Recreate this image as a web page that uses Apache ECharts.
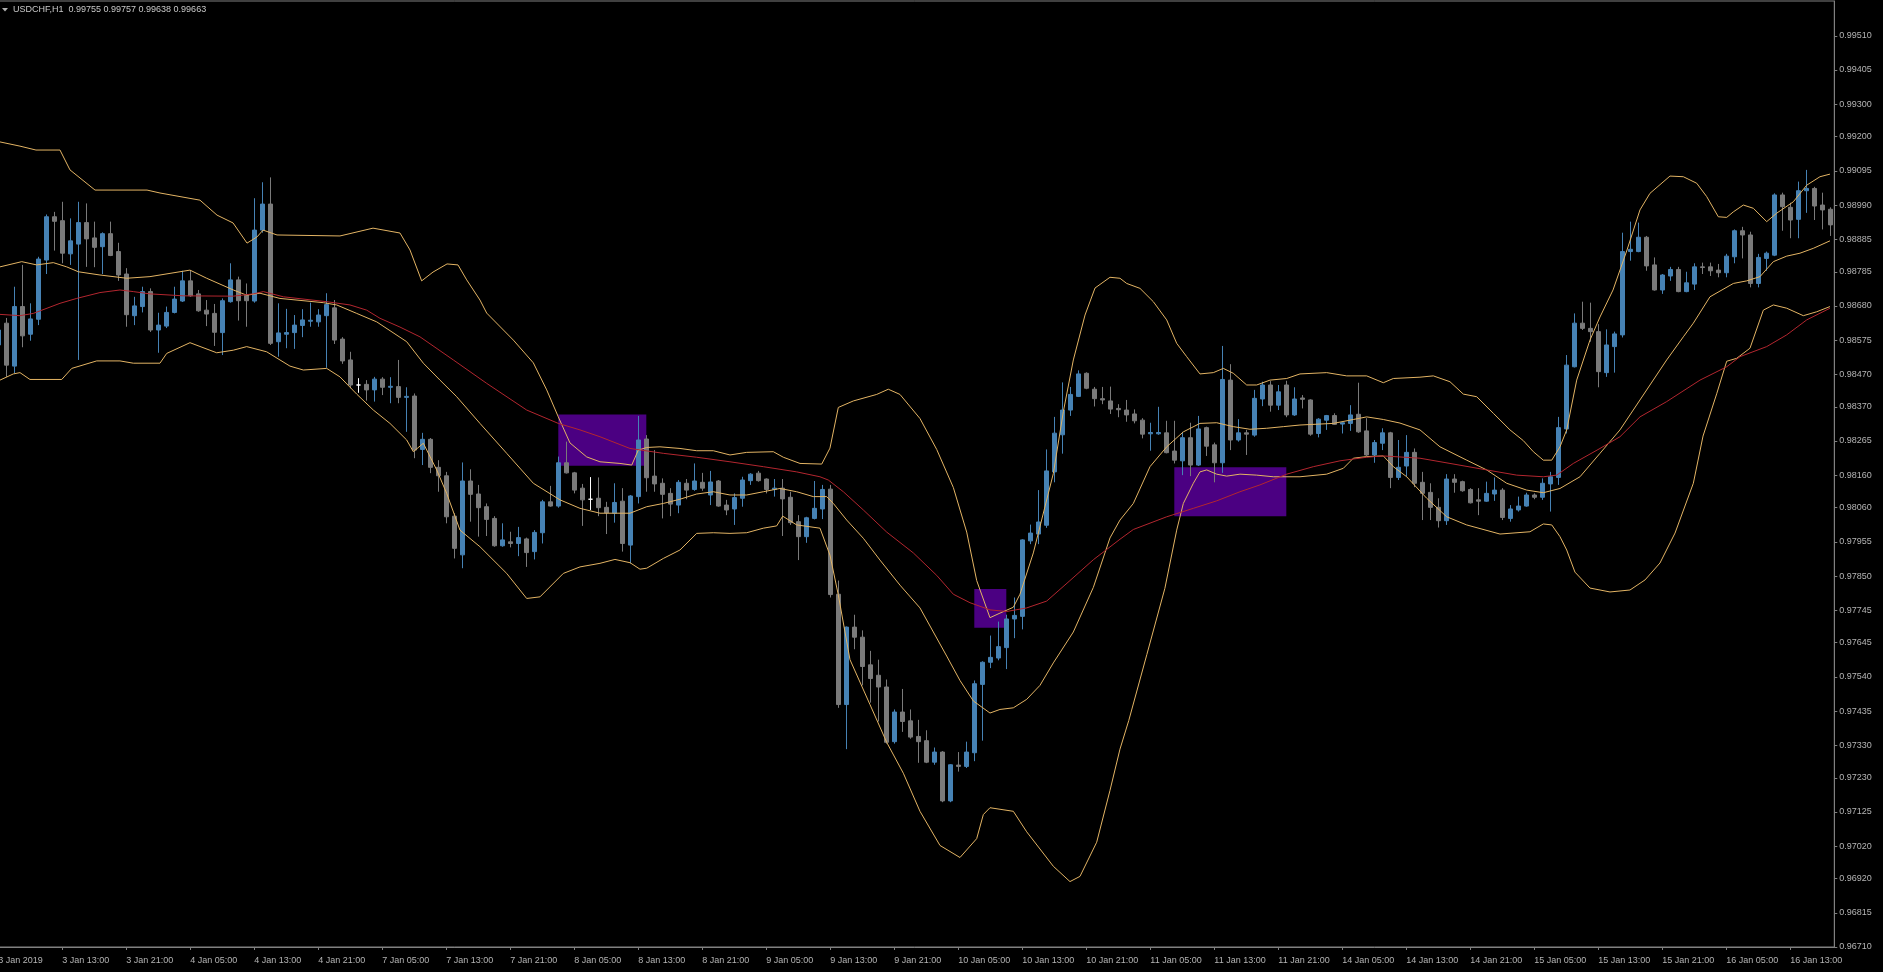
<!DOCTYPE html>
<html>
<head>
<meta charset="utf-8">
<title>USDCHF,H1</title>
<script src="https://cdn.jsdelivr.net/npm/echarts@6/dist/echarts.min.js"></script>
<style>
html,body{margin:0;padding:0;background:#000;overflow:hidden;width:1883px;height:972px;}
#chart{position:absolute;left:-6px;top:0;width:1889px;height:972px;}
</style>
</head>
<body>
<div id="chart"></div>
<script>
// ---------------- DATA ----------------
const symbolTitle = 'USDCHF,H1  0.99755 0.99757 0.99638 0.99663';
const firstBarUTC = [2019, 0, 3, 5]; // 3 Jan 2019 05:00, hourly bars, weekends skipped

const open = [0.98560,0.98627,0.98495,0.98678,0.98593,0.98639,0.98821,0.98954,0.98942,0.98840,
0.98870,0.98936,0.98889,0.98862,0.98902,0.98847,0.98778,0.98650,0.98678,0.98724,
0.98606,0.98618,0.98660,0.98695,0.98757,0.98717,0.98667,0.98657,0.98598,0.98693,
0.98760,0.98713,0.98695,0.98913,0.98993,0.98570,0.98593,0.98598,0.98620,0.98633,
0.98631,0.98650,0.98674,0.98578,0.98514,0.98437,0.98439,0.98422,0.98455,0.98430,
0.98432,0.98399,0.98403,0.98239,0.98270,0.98184,0.98158,0.98034,0.97915,0.98142,
0.98102,0.98063,0.98027,0.97943,0.97955,0.97950,0.97964,0.97925,0.97983,0.98078,
0.98065,0.98198,0.98167,0.98120,0.98086,0.98089,0.98061,0.98043,0.98080,0.97945,
0.98094,0.98271,0.98157,0.98135,0.98104,0.98068,0.98135,0.98116,0.98138,0.98099,
0.98142,0.98068,0.98056,0.98089,0.98143,0.98166,0.98148,0.98116,0.98120,0.98092,
0.98017,0.97971,0.98027,0.98056,0.98117,0.97794,0.97455,0.97693,0.97662,0.97577,
0.97545,0.97509,0.97341,0.97432,0.97405,0.97357,0.97344,0.97278,0.97309,0.97159,
0.97269,0.97265,0.97307,0.97517,0.97585,0.97598,0.97630,0.97718,0.97726,0.97958,
0.97979,0.98006,0.98170,0.98284,0.98360,0.98402,0.98473,0.98424,0.98395,0.98388,
0.98365,0.98360,0.98348,0.98329,0.98287,0.98287,0.98290,0.98234,0.98204,0.98275,
0.98191,0.98306,0.98253,0.98198,0.98452,0.98268,0.98290,0.98283,0.98394,0.98437,
0.98375,0.98437,0.98345,0.98397,0.98391,0.98288,0.98329,0.98343,0.98317,0.98319,
0.98347,0.98296,0.98222,0.98258,0.98290,0.98153,0.98188,0.98230,0.98138,0.98107,
0.98061,0.98020,0.98148,0.98140,0.98116,0.98084,0.98080,0.98102,0.98114,0.98027,
0.98053,0.98065,0.98099,0.98092,0.98133,0.98153,0.98302,0.98493,0.98627,0.98611,
0.98601,0.98475,0.98555,0.98591,0.98847,0.98847,0.98891,0.98806,0.98729,0.98772,
0.98792,0.98724,0.98747,0.98800,0.98800,0.98790,0.98782,0.98831,0.98911,0.98898,
0.98749,0.98826,0.98836,0.99021,0.98983,0.98946,0.99034,0.99041,0.98990,0.98977];

const high = [0.98621,0.98643,0.98739,0.98806,0.98688,0.98831,0.98961,0.98969,0.99000,0.98949,
0.99000,0.98995,0.98939,0.98906,0.98939,0.98874,0.98796,0.98708,0.98739,0.98734,
0.98659,0.98678,0.98739,0.98788,0.98790,0.98729,0.98698,0.98686,0.98703,0.98811,
0.98770,0.98749,0.99011,0.99060,0.99075,0.98688,0.98671,0.98652,0.98670,0.98690,
0.98670,0.98719,0.98698,0.98584,0.98539,0.98458,0.98452,0.98462,0.98461,0.98461,
0.98514,0.98430,0.98411,0.98290,0.98274,0.98206,0.98170,0.98043,0.98199,0.98178,
0.98130,0.98073,0.98034,0.98012,0.97986,0.98001,0.97968,0.97991,0.98084,0.98127,
0.98217,0.98263,0.98170,0.98133,0.98154,0.98153,0.98078,0.98135,0.98120,0.98099,
0.98342,0.98283,0.98237,0.98150,0.98120,0.98145,0.98148,0.98196,0.98167,0.98173,
0.98145,0.98084,0.98104,0.98155,0.98166,0.98173,0.98150,0.98148,0.98148,0.98109,
0.98037,0.98032,0.98142,0.98130,0.98130,0.97836,0.97695,0.97731,0.97683,0.97620,
0.97593,0.97532,0.97440,0.97503,0.97440,0.97408,0.97376,0.97323,0.97312,0.97272,
0.97309,0.97341,0.97529,0.97588,0.97667,0.97710,0.97731,0.97784,0.97963,0.98008,
0.98114,0.98239,0.98339,0.98445,0.98431,0.98482,0.98476,0.98431,0.98431,0.98432,
0.98378,0.98391,0.98362,0.98335,0.98321,0.98370,0.98327,0.98327,0.98293,0.98321,
0.98342,0.98309,0.98260,0.98557,0.98501,0.98332,0.98299,0.98422,0.98447,0.98449,
0.98437,0.98450,0.98430,0.98406,0.98393,0.98335,0.98345,0.98350,0.98322,0.98375,
0.98444,0.98335,0.98268,0.98304,0.98293,0.98268,0.98283,0.98242,0.98170,0.98135,
0.98089,0.98163,0.98163,0.98143,0.98120,0.98120,0.98140,0.98153,0.98120,0.98068,
0.98094,0.98106,0.98104,0.98150,0.98170,0.98339,0.98529,0.98657,0.98693,0.98690,
0.98624,0.98608,0.98601,0.98905,0.98939,0.98936,0.98895,0.98829,0.98778,0.98800,
0.98800,0.98785,0.98811,0.98813,0.98813,0.98809,0.98840,0.98915,0.98923,0.98908,
0.98840,0.98847,0.99026,0.99028,0.98997,0.99062,0.99098,0.99046,0.99028,0.98983];

const low = [0.98544,0.98462,0.98473,0.98553,0.98573,0.98621,0.98778,0.98850,0.98811,0.98806,
0.98514,0.98800,0.98799,0.98778,0.98833,0.98757,0.98616,0.98621,0.98660,0.98600,
0.98536,0.98612,0.98657,0.98692,0.98708,0.98662,0.98618,0.98557,0.98529,0.98690,
0.98635,0.98616,0.98690,0.98905,0.98560,0.98524,0.98550,0.98548,0.98584,0.98616,
0.98616,0.98490,0.98563,0.98502,0.98427,0.98413,0.98389,0.98386,0.98406,0.98381,
0.98381,0.98293,0.98212,0.98191,0.98166,0.98109,0.98012,0.97904,0.97874,0.98017,
0.97971,0.97973,0.97940,0.97940,0.97938,0.97911,0.97878,0.97901,0.97950,0.98063,
0.98060,0.98165,0.98104,0.98004,0.98053,0.98034,0.97979,0.98014,0.97925,0.97889,
0.98073,0.98109,0.98109,0.98027,0.98034,0.98043,0.98086,0.98112,0.98112,0.98068,
0.98063,0.98037,0.98007,0.98063,0.98130,0.98140,0.98104,0.98094,0.97973,0.98007,
0.97899,0.97952,0.98024,0.98025,0.97784,0.97445,0.97318,0.97625,0.97514,0.97461,
0.97403,0.97335,0.97335,0.97371,0.97350,0.97276,0.97275,0.97270,0.97155,0.97155,
0.97249,0.97260,0.97281,0.97344,0.97567,0.97591,0.97564,0.97659,0.97686,0.97948,
0.97948,0.97998,0.98138,0.98226,0.98342,0.98400,0.98424,0.98371,0.98378,0.98348,
0.98338,0.98324,0.98319,0.98273,0.98235,0.98284,0.98227,0.98196,0.98160,0.98157,
0.98188,0.98219,0.98138,0.98167,0.98237,0.98263,0.98222,0.98278,0.98372,0.98355,
0.98360,0.98338,0.98342,0.98365,0.98281,0.98276,0.98299,0.98314,0.98288,0.98296,
0.98290,0.98219,0.98198,0.98237,0.98120,0.98145,0.98155,0.98123,0.98022,0.98022,
0.97999,0.98007,0.98106,0.98109,0.98073,0.98037,0.98078,0.98081,0.98022,0.98017,
0.98048,0.98063,0.98086,0.98084,0.98048,0.98130,0.98288,0.98491,0.98606,0.98570,
0.98430,0.98462,0.98475,0.98583,0.98819,0.98845,0.98788,0.98727,0.98717,0.98757,
0.98722,0.98722,0.98729,0.98778,0.98772,0.98768,0.98768,0.98811,0.98826,0.98737,
0.98737,0.98788,0.98833,0.98911,0.98888,0.98888,0.98966,0.98944,0.98915,0.98895];

const close = [0.98606,0.98498,0.98678,0.98588,0.98640,0.98824,0.98954,0.98940,0.98842,0.98880,
0.98936,0.98886,0.98860,0.98902,0.98835,0.98775,0.98653,0.98680,0.98724,0.98606,
0.98621,0.98660,0.98701,0.98757,0.98711,0.98665,0.98655,0.98599,0.98696,0.98760,
0.98696,0.98696,0.98913,0.98993,0.98565,0.98597,0.98598,0.98621,0.98637,0.98636,
0.98652,0.98684,0.98575,0.98511,0.98437,0.98437,0.98422,0.98455,0.98430,0.98433,
0.98399,0.98402,0.98237,0.98270,0.98184,0.98158,0.98032,0.97935,0.98142,0.98101,
0.98060,0.98024,0.97943,0.97961,0.97950,0.97968,0.97922,0.97984,0.98078,0.98065,
0.98198,0.98167,0.98114,0.98084,0.98086,0.98060,0.98044,0.98076,0.97950,0.98096,
0.98268,0.98152,0.98133,0.98101,0.98071,0.98138,0.98114,0.98142,0.98120,0.98139,
0.98065,0.98053,0.98091,0.98145,0.98163,0.98143,0.98116,0.98120,0.98087,0.98014,
0.97971,0.98029,0.98058,0.98116,0.97793,0.97455,0.97693,0.97662,0.97572,0.97535,
0.97509,0.97339,0.97432,0.97403,0.97355,0.97341,0.97278,0.97309,0.97159,0.97270,
0.97265,0.97309,0.97519,0.97585,0.97600,0.97633,0.97718,0.97729,0.97961,0.97982,
0.98016,0.98173,0.98289,0.98360,0.98408,0.98471,0.98427,0.98395,0.98391,0.98363,
0.98361,0.98345,0.98327,0.98286,0.98291,0.98291,0.98229,0.98206,0.98275,0.98191,
0.98302,0.98249,0.98198,0.98454,0.98268,0.98290,0.98286,0.98396,0.98437,0.98375,
0.98416,0.98345,0.98394,0.98393,0.98286,0.98332,0.98343,0.98316,0.98321,0.98345,
0.98293,0.98222,0.98260,0.98290,0.98153,0.98184,0.98230,0.98135,0.98104,0.98061,
0.98020,0.98148,0.98138,0.98112,0.98075,0.98080,0.98104,0.98114,0.98030,0.98056,
0.98065,0.98099,0.98092,0.98135,0.98155,0.98306,0.98498,0.98627,0.98611,0.98601,
0.98478,0.98560,0.98594,0.98847,0.98854,0.98891,0.98803,0.98729,0.98775,0.98792,
0.98724,0.98751,0.98800,0.98798,0.98788,0.98782,0.98833,0.98911,0.98898,0.98749,
0.98829,0.98842,0.99021,0.98985,0.98944,0.99034,0.99041,0.98987,0.98975,0.98929];

// Bollinger bands and slow moving average: [bar index, price]
const bandUpper = [[0.21,0.99184],[2.71,0.99171],[4.71,0.99159],[7.71,0.99159],[8.96,0.99098],[12.09,0.99036],[18.59,0.99036],[20.21,0.99027],[25.21,0.99005],[27.34,0.98959],[29.34,0.98935],[31.09,0.98873],[32.34,0.98892],[33.09,0.98913],[34.84,0.98898],[42.71,0.98895],[46.84,0.98919],[50.21,0.98904],[51.46,0.98852],[52.92,0.98757],[54.34,0.98784],[56.09,0.98809],[57.46,0.98806],[58.55,0.98760],[60.21,0.98698],[61.05,0.98658],[64.38,0.98575],[66.88,0.98505],[68.55,0.98422],[70.0,0.98339],[71.46,0.98259],[73.55,0.98216],[75.21,0.98201],[77.71,0.98196],[79.18,0.98191],[80.0,0.98237],[81.05,0.98245],[82.71,0.98247],[85.21,0.98242],[87.3,0.98235],[89.38,0.98235],[91.46,0.98222],[93.55,0.98230],[96.88,0.98232],[98.13,0.98215],[100.21,0.98196],[102.93,0.98194],[103.96,0.98243],[105.0,0.98368],[106.88,0.98388],[109.8,0.98408],[111.25,0.98424],[112.71,0.98408],[115.21,0.98334],[117.3,0.98239],[119.38,0.98122],[121.05,0.97985],[122.3,0.97836],[123.96,0.97722],[125.21,0.97736],[126.88,0.97754],[127.71,0.97794],[129.38,0.97921],[131.88,0.98165],[133.13,0.98355],[134.38,0.98514],[135.84,0.98652],[137.09,0.98735],[138.96,0.98768],[140.21,0.98765],[141.05,0.98749],[142.71,0.98734],[144.38,0.98693],[146.05,0.98637],[147.3,0.98565],[148.55,0.98524],[150.21,0.98471],[151.88,0.98475],[153.13,0.98488],[154.38,0.98473],[156.05,0.98437],[157.3,0.98437],[158.96,0.98452],[161.05,0.98457],[162.71,0.98471],[166.05,0.98475],[168.55,0.98465],[171.05,0.98465],[173.13,0.98444],[174.38,0.98457],[177.71,0.98461],[179.38,0.98465],[181.46,0.98447],[183.13,0.98409],[184.8,0.98401],[186.88,0.98350],[188.96,0.98299],[190.63,0.98266],[191.88,0.98232],[193.13,0.98206],[194.18,0.98206],[195.21,0.98247],[196.05,0.98299],[197.3,0.98452],[198.96,0.98575],[200.21,0.98646],[201.84,0.98729],[203.59,0.98852],[205.21,0.98975],[206.46,0.99026],[208.96,0.99079],[210.63,0.99077],[212.3,0.99057],[213.55,0.99016],[215.0,0.98954],[216.05,0.98952],[216.88,0.98969],[218.13,0.98990],[219.38,0.98980],[221.05,0.98939],[222.3,0.98965],[224.38,0.99000],[226.05,0.99051],[227.71,0.99077],[228.96,0.99085]];

const bandMiddle = [[0.21,0.98800],[2.93,0.98816],[4.8,0.98806],[6.88,0.98813],[8.55,0.98800],[10.0,0.98785],[12.71,0.98775],[16.05,0.98765],[18.96,0.98770],[23.96,0.98790],[26.05,0.98765],[29.38,0.98729],[31.05,0.98713],[32.71,0.98719],[35.21,0.98703],[40.63,0.98690],[42.3,0.98683],[44.8,0.98657],[47.3,0.98631],[51.05,0.98570],[53.13,0.98504],[55.21,0.98452],[57.3,0.98401],[60.21,0.98319],[63.55,0.98227],[66.88,0.98135],[70.21,0.98084],[72.71,0.98058],[75.21,0.98043],[78.96,0.98043],[81.05,0.98063],[83.13,0.98073],[85.21,0.98086],[87.3,0.98102],[89.38,0.98109],[91.46,0.98099],[93.55,0.98099],[95.63,0.98109],[97.71,0.98119],[99.8,0.98109],[101.88,0.98094],[103.55,0.98094],[104.38,0.98073],[106.05,0.98022],[108.13,0.97966],[110.21,0.97899],[112.71,0.97822],[115.21,0.97752],[116.88,0.97678],[118.55,0.97604],[120.21,0.97529],[121.88,0.97466],[123.96,0.97429],[125.21,0.97440],[126.88,0.97445],[128.55,0.97471],[130.21,0.97514],[131.88,0.97583],[134.38,0.97678],[136.88,0.97815],[138.96,0.97967],[140.21,0.98022],[141.88,0.98073],[143.96,0.98186],[146.05,0.98247],[148.13,0.98293],[150.21,0.98319],[152.3,0.98321],[154.38,0.98309],[156.46,0.98301],[158.55,0.98304],[160.63,0.98309],[162.71,0.98314],[166.88,0.98319],[169.38,0.98331],[171.05,0.98339],[173.13,0.98331],[175.21,0.98320],[177.71,0.98299],[180.21,0.98247],[183.55,0.98206],[186.05,0.98176],[188.55,0.98135],[191.05,0.98114],[193.13,0.98106],[195.21,0.98119],[197.71,0.98155],[200.21,0.98227],[202.71,0.98299],[205.21,0.98391],[208.55,0.98514],[210.63,0.98585],[211.88,0.98627],[213.96,0.98708],[216.88,0.98749],[218.55,0.98757],[220.21,0.98770],[221.88,0.98816],[223.55,0.98833],[225.21,0.98842],[226.88,0.98857],[228.96,0.98880]];

const bandLower = [[0.21,0.98452],[1.88,0.98471],[2.71,0.98475],[3.96,0.98454],[7.93,0.98454],[9.18,0.98488],[12.3,0.98511],[15.21,0.98511],[16.88,0.98504],[20.21,0.98504],[21.05,0.98534],[23.96,0.98567],[27.3,0.98536],[29.38,0.98544],[31.05,0.98555],[33.55,0.98539],[36.46,0.98495],[38.13,0.98483],[41.05,0.98488],[42.71,0.98462],[44.8,0.98409],[46.88,0.98360],[48.96,0.98319],[51.05,0.98268],[51.88,0.98232],[53.13,0.98258],[54.8,0.98176],[56.05,0.98104],[57.71,0.97991],[60.21,0.97940],[63.55,0.97858],[66.05,0.97781],[67.71,0.97786],[70.63,0.97858],[72.71,0.97878],[75.21,0.97889],[77.08,0.97901],[78.96,0.97891],[80.21,0.97871],[81.05,0.97874],[83.13,0.97904],[85.21,0.97930],[87.3,0.97981],[89.38,0.97983],[91.46,0.97981],[93.55,0.97983],[95.63,0.97997],[97.3,0.98004],[98.05,0.98034],[99.8,0.98007],[102.71,0.97997],[103.96,0.97914],[105.0,0.97792],[106.46,0.97593],[108.96,0.97455],[111.05,0.97339],[113.13,0.97244],[115.21,0.97127],[117.71,0.97022],[120.21,0.96985],[122.3,0.97043],[123.13,0.97117],[123.96,0.97138],[126.88,0.97127],[128.55,0.97064],[131.88,0.96958],[133.96,0.96911],[135.21,0.96927],[137.3,0.97032],[138.96,0.97191],[140.21,0.97318],[141.31,0.97406],[143.57,0.97609],[145.82,0.97812],[147.3,0.97991],[148.13,0.98073],[149.38,0.98135],[150.21,0.98170],[151.05,0.98176],[152.3,0.98163],[153.55,0.98157],[155.21,0.98163],[157.3,0.98160],[159.38,0.98155],[162.71,0.98155],[166.05,0.98163],[168.13,0.98181],[169.38,0.98212],[171.05,0.98217],[173.13,0.98219],[174.38,0.98186],[176.05,0.98155],[178.55,0.98089],[181.05,0.98032],[183.55,0.98007],[187.71,0.97979],[191.46,0.97986],[193.13,0.98010],[194.18,0.98007],[195.21,0.97971],[196.05,0.97930],[197.08,0.97862],[198.96,0.97813],[201.46,0.97801],[203.96,0.97807],[205.84,0.97838],[207.71,0.97890],[209.59,0.97982],[211.88,0.98135],[213.09,0.98280],[214.8,0.98410],[216.05,0.98510],[217.3,0.98519],[218.96,0.98550],[220.63,0.98667],[221.88,0.98683],[223.55,0.98673],[225.63,0.98650],[227.3,0.98662],[228.96,0.98678]];

const slowMA = [[0.21,0.98654],[2.71,0.98650],[4.38,0.98657],[7.71,0.98688],[9.8,0.98703],[12.71,0.98721],[15.21,0.98729],[16.88,0.98724],[18.96,0.98717],[23.13,0.98711],[29.38,0.98710],[31.88,0.98717],[33.13,0.98724],[35.63,0.98708],[41.05,0.98693],[43.96,0.98683],[46.05,0.98667],[47.71,0.98642],[50.21,0.98615],[52.71,0.98585],[56.88,0.98514],[61.05,0.98442],[66.05,0.98360],[70.0,0.98319],[72.71,0.98299],[75.21,0.98278],[78.96,0.98242],[83.13,0.98227],[87.3,0.98215],[91.46,0.98201],[95.63,0.98186],[99.8,0.98170],[102.71,0.98155],[103.75,0.98145],[105.63,0.98109],[108.13,0.98053],[111.05,0.97985],[114.38,0.97921],[117.3,0.97852],[119.38,0.97794],[121.46,0.97768],[123.96,0.97746],[126.05,0.97741],[128.55,0.97752],[131.05,0.97773],[133.96,0.97836],[136.88,0.97900],[140.21,0.97963],[141.88,0.97993],[146.05,0.98032],[149.38,0.98058],[152.3,0.98081],[155.21,0.98109],[157.71,0.98130],[161.05,0.98163],[164.38,0.98186],[167.71,0.98204],[171.05,0.98215],[173.13,0.98219],[177.71,0.98212],[181.46,0.98196],[186.05,0.98176],[189.8,0.98160],[193.13,0.98155],[194.8,0.98160],[196.88,0.98196],[200.21,0.98242],[202.71,0.98278],[205.21,0.98339],[208.55,0.98386],[212.71,0.98452],[216.05,0.98493],[217.71,0.98524],[221.05,0.98555],[223.55,0.98591],[226.05,0.98637],[228.96,0.98673]];

// Rectangles drawn on the chart: [fromBar, toBar, topPrice, bottomPrice]
const zones = [[70, 81, 0.98346, 0.98189], [122, 126, 0.97810, 0.97691], [147, 161, 0.98184, 0.98034]];

const priceTicks = ['0.99510','0.99405','0.99300','0.99200','0.99095','0.98990','0.98885','0.98785','0.98680','0.98575','0.98470','0.98370','0.98265','0.98160','0.98060','0.97955','0.97850','0.97745','0.97645','0.97540','0.97435','0.97330','0.97230','0.97125','0.97020','0.96920','0.96815','0.96710'];
const priceMin = 0.96710;
const priceMax = 0.99617;

// ---------------- BUILD ----------------
const months = ['Jan','Feb','Mar','Apr','May','Jun','Jul','Aug','Sep','Oct','Nov','Dec'];
const categories = [];
const firstLabels = [];
{
  let t = Date.UTC(firstBarUTC[0], firstBarUTC[1], firstBarUTC[2], firstBarUTC[3]);
  while (categories.length < open.length) {
    const d = new Date(t);
    const wd = d.getUTCDay();
    if (wd !== 0 && wd !== 6) {
      const hh = String(d.getUTCHours()).padStart(2, '0');
      categories.push(d.getUTCDate() + ' ' + months[d.getUTCMonth()] + ' ' + hh + ':00');
      firstLabels.push(d.getUTCDate() + ' ' + months[d.getUTCMonth()] + ' ' + d.getUTCFullYear());
    }
    t += 3600000;
  }
}
const candleData = open.map((o, i) => [o, close[i], low[i], high[i]]);
const labelEvery = 8;

const textColor = '#b4b4b4';
const frameColor = '#808080';
const font = 'Liberation Sans';
const bandColor = '#e3b464';
const maColor = '#b3262f';
const shift = 6; // chart canvas starts 6px left of the page edge

const chart = echarts.init(document.getElementById('chart'), null, {renderer: 'canvas'});
chart.setOption({
  backgroundColor: '#000000',
  animation: false,
  grid: {left: 0.3, right: 48.7, top: 1, bottom: 25, show: true, borderColor: frameColor, borderWidth: 1, containLabel: false},
  graphic: [
    {type: 'polygon', shape: {points: [[2 + shift, 8], [8 + shift, 8], [5 + shift, 11.5]]}, style: {fill: '#b0b0b0'}},
    {type: 'text', x: 13 + shift, y: 9.5, style: {text: symbolTitle, fill: '#c8c8c8', font: '9px "Liberation Sans"', verticalAlign: 'middle'}}
  ],
  xAxis: [
    {
      type: 'category', data: categories, boundaryGap: true, position: 'bottom',
      axisLine: {show: true, onZero: false, lineStyle: {color: frameColor}},
      axisTick: {show: true, alignWithLabel: true, length: 3, interval: (i) => i % labelEvery === 0, lineStyle: {color: frameColor}},
      axisLabel: {
        show: true, interval: (i) => i % labelEvery === 0, align: 'left', margin: 9,
        color: textColor, fontSize: 9, fontFamily: font,
        formatter: (v, i) => i === 0 ? firstLabels[0] : v
      },
      splitLine: {show: false}
    },
    {type: 'value', min: -0.5, max: open.length - 0.5, show: false, axisLine: {onZero: false}}
  ],
  yAxis: {
    type: 'value', position: 'right', min: priceMin, max: priceMax, scale: true,
    axisLine: {show: true, onZero: false, lineStyle: {color: frameColor}},
    axisTick: {show: true, length: 3, customValues: priceTicks.map(Number), lineStyle: {color: frameColor}},
    axisLabel: {show: true, customValues: priceTicks.map(Number), margin: 5, color: textColor, fontSize: 9, fontFamily: font,
      formatter: (v) => { const m = priceTicks.find(s => Math.abs(Number(s) - v) < 1e-7); return m || v.toFixed(5); }},
    splitLine: {show: false}
  },
  series: [
    {
      type: 'custom', xAxisIndex: 1, z: 1, silent: true,
      data: zones,
      renderItem: (params, api) => {
        const p0 = api.coord([api.value(0), api.value(2)]);
        const p1 = api.coord([api.value(1), api.value(3)]);
        return {type: 'rect', shape: {x: p0[0], y: p0[1], width: p1[0] - p0[0], height: p1[1] - p0[1]}, style: {fill: '#4b0082'}};
      }
    },
    {
      type: 'candlestick', xAxisIndex: 0, z: 2, data: candleData, barWidth: 4,
      itemStyle: {color: '#4682b4', color0: '#7a7a7a', borderColor: '#4682b4', borderColor0: '#7a7a7a', borderColorDoji: '#ffffff', borderWidth: 1}
    },
    {type: 'line', xAxisIndex: 1, z: 3, data: bandUpper, showSymbol: false, lineStyle: {color: bandColor, width: 1}},
    {type: 'line', xAxisIndex: 1, z: 3, data: bandMiddle, showSymbol: false, lineStyle: {color: bandColor, width: 1}},
    {type: 'line', xAxisIndex: 1, z: 3, data: bandLower, showSymbol: false, lineStyle: {color: bandColor, width: 1}},
    {type: 'line', xAxisIndex: 1, z: 3, data: slowMA, showSymbol: false, lineStyle: {color: maColor, width: 1}}
  ]
});
</script>
</body>
</html>
